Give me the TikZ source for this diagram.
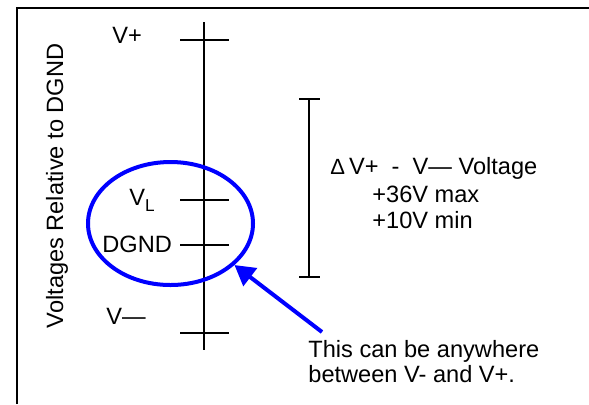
\documentclass[tikz,border=0pt]{standalone}
\usepackage{fontspec}
\setmainfont{Liberation Sans}
\usetikzlibrary{arrows.meta,shapes.geometric,positioning}

\begin{document}
\begin{tikzpicture}[x=0.5pt,y=-0.5pt,>={Triangle[length=10pt,width=11pt]},every node/.append style={font=\fontsize{11.8pt}{13pt}\selectfont,inner sep=0pt},lbl/.style={anchor=base west},tick/.style={line width=0.7pt},ring/.style={ellipse,draw=blue,line width=2pt,minimum width=82.5pt,minimum height=61.5pt}]
    \useasboundingbox (0,0) rectangle (589,404);
    \draw[line width=1pt] (17,404) -- (17,8) -- (589,8);
    \node[rotate=90] (axis) at (57,186) {Voltages Relative to DGND};
    \coordinate (top) at (204,22);
    \coordinate (bot) at (204,350);
    \draw[tick] (top) -- (bot);
    \foreach \y in {40,200,245,333}
        \draw[tick] (180,\y) -- (229,\y);
    \node[lbl] (vplus) at (112,43) {V+};
    \node[lbl] (vlogic) at (129,205) {V\raisebox{-3pt}{\fontsize{8.6pt}{9pt}\selectfont L}};
    \node[lbl] (dgnd) at (102,252) {DGND};
    \node[lbl] (vminus) at (106,324) {V—};
    \node[ring] (ring) at (170.5,223.5) {};
    \draw[tick] (299,99) -- (320,99) (309,99) -- (309,277) (299,277) -- (320,277);
    \node[lbl] (delta) at (330,174) {{\fontsize{11pt}{11pt}\selectfont Δ}\hspace{2pt}V+\ \ -\ \ V— Voltage};
    \node[lbl] (vmax) at (372,202) {+36V max};
    \node[lbl] (vmin) at (372,228) {+10V min};
    \node[lbl] (note) at (308,357) {This can be anywhere};
    \node[lbl] (note2) at (308,382) {between V- and V+.};
    \coordinate (tail) at (322,332);
    \draw[->,blue,line width=2pt] (tail) -- (ring.-33);
\end{tikzpicture}
\end{document}
